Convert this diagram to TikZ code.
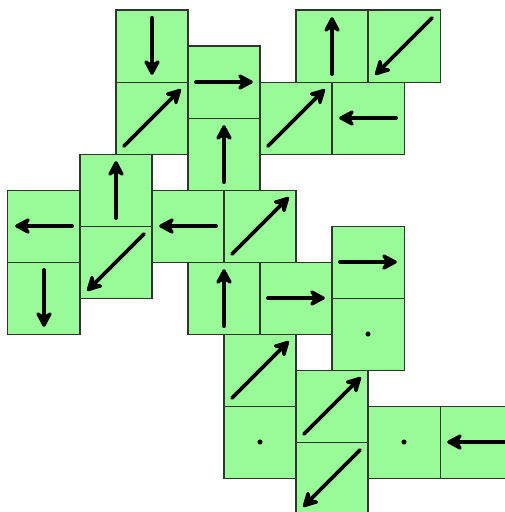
\documentclass[tikz,border=0pt]{standalone}
\usepackage{xcolor}
\usepackage{tikz}
\usetikzlibrary{arrows.meta}
\definecolor{cellgreen}{HTML}{98FB98}
\definecolor{celledge}{HTML}{333333}

\tikzset{
  cell/.style={draw=celledge, fill=cellgreen, line width=0.8pt,
    minimum size=2cm, inner sep=0pt},
  flow/.style={line width=3pt, line cap=round,
    -{Stealth[length=15pt, width=16pt, inset=5pt, round]}}
}

\begin{document}
\begin{tikzpicture}
  \useasboundingbox (-0.222,0.278) rectangle (13.778,-13.944);
  % grid cells, x/y are the top-left corners in half-cell steps
  \foreach \x/\y in {3/0,3/2,5/1,5/3,8/0,10/0,7/2,9/2,2/4,2/6,0/5,0/7,
      4/5,6/5,9/6,9/8,5/7,7/7,6/9,6/11,8/10,8/12,10/11,12/11}
    \node[cell] (cell-\x-\y) at (\x+1,-\y-1) {};
  % flow direction in each cell
  \foreach \x/\y/\dx/\dy in {3/0/0/-1,3/2/1/1,5/1/1/0,5/3/0/1,8/0/0/1,
      10/0/-1/-1,7/2/1/1,9/2/-1/0,2/4/0/1,2/6/-1/-1,0/5/-1/0,0/7/0/-1,
      4/5/-1/0,6/5/1/1,9/6/1/0,5/7/0/1,7/7/1/0,6/9/1/1,8/10/1/1,
      8/12/-1/-1,12/11/-1/0}
    \draw[flow] ([shift={(-0.78*\dx,-0.78*\dy)}]cell-\x-\y.center)
      -- ([shift={(0.8*\dx,0.8*\dy)}]cell-\x-\y.center);
  % cells without flow
  \foreach \x/\y in {9/8,6/11,10/11}
    \fill (cell-\x-\y.center) circle (0.07);
\end{tikzpicture}
\end{document}
